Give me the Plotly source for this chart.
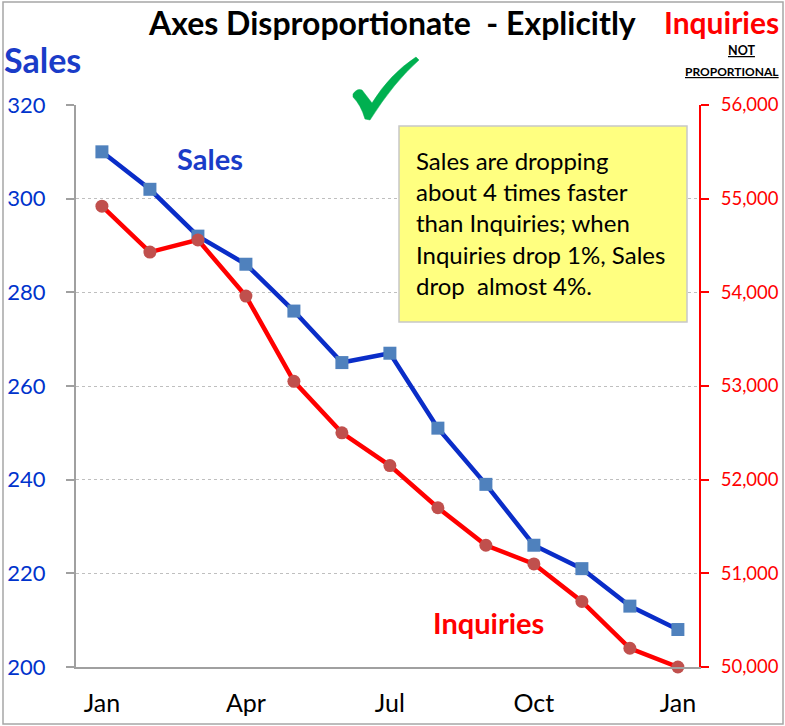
import plotly.graph_objects as go

# ---- data ----
months = ["Jan", "Feb", "Mar", "Apr", "May", "Jun", "Jul", "Aug", "Sep", "Oct", "Nov", "Dec", "Jan"]
month_idx = list(range(len(months)))
sales = [310, 302, 292, 286, 276, 265, 267, 251, 239, 226, 221, 213, 208]
inquiries = [54920, 54430, 54560, 53960, 53050, 52500, 52150, 51700, 51300, 51100, 50700, 50200, 50000]
xtick_vals = [0, 3, 6, 9, 12]
xtick_text = ["Jan", "Apr", "Jul", "Oct", "Jan"]
sales_ticks = [200, 220, 240, 260, 280, 300, 320]
inq_ticks = [50000, 51000, 52000, 53000, 54000, 55000, 56000]

W, H = 785, 726
L, R, T, B = 76, 86, 105, 59
PW, PH = W - L - R, H - T - B


def px(x):
    return (x - L) / PW


def py(y):
    return (H - B - y) / PH


FONT = "Lato"
BLUE_TXT = "#1A3CC8"
RED = "#FF0000"

fig = go.Figure()
fig.add_trace(go.Scatter(
    x=month_idx, y=sales, mode="lines+markers", name="Sales",
    line=dict(color="#0A2DC8", width=4.5),
    marker=dict(symbol="square", size=13, color="#4F81BD"),
    yaxis="y", cliponaxis=False,
))
fig.add_trace(go.Scatter(
    x=month_idx, y=inquiries, mode="lines+markers", name="Inquiries",
    line=dict(color=RED, width=4.5),
    marker=dict(symbol="circle", size=13, color="#C0504D"),
    yaxis="y2", cliponaxis=False,
))

# checkmark path (pixel coords -> paper)
pts = [("M", [(353, 94)]), ("Q", [(357, 88), (362, 90)]), ("L", [(372, 103)]),
       ("Q", [(390, 74), (416, 57)]), ("L", [(419, 60)]), ("Q", [(394, 82), (370, 120)]),
       ("L", [(365, 119)]), ("Q", [(361, 105), (353, 97)])]
path = ""
for cmd, cs in pts:
    path += cmd + " " + " ".join(f"{px(a):.5f},{py(b):.5f}" for a, b in cs) + " "
path += "Z"

shapes = [
    # outer frame
    dict(type="rect", xref="paper", yref="paper", x0=px(3), x1=px(783), y0=py(724), y1=py(2),
         line=dict(color="#A6A6A6", width=1.5), fillcolor="rgba(0,0,0,0)", layer="below"),
    # yellow note box
    dict(type="rect", xref="paper", yref="paper", x0=px(399), x1=px(687), y0=py(322), y1=py(126),
         line=dict(color="#C8C8C8", width=1.5), fillcolor="#FFFF80", layer="above"),
    dict(type="path", xref="paper", yref="paper", path=path,
         fillcolor="#00B050", line=dict(color="#00B050", width=0.5), layer="above"),
]

annotations = [
    dict(text="<b>Axes Disproportionate  - Explicitly</b>", x=px(392), y=py(23), xref="paper", yref="paper",
         showarrow=False, font=dict(family=FONT, size=32, color="black"), xanchor="center", yanchor="middle"),
    dict(text="<b>Sales</b>", x=px(42), y=py(60), xref="paper", yref="paper",
         showarrow=False, font=dict(family=FONT, size=34, color=BLUE_TXT), xanchor="center", yanchor="middle"),
    dict(text="<b>Inquiries</b>", x=px(721), y=py(22), xref="paper", yref="paper",
         showarrow=False, font=dict(family=FONT, size=30, color=RED), xanchor="center", yanchor="middle"),
    dict(text="<b><u>NOT</u></b>", x=px(741), y=py(51), xref="paper", yref="paper",
         showarrow=False, font=dict(family=FONT, size=12.5, color="black"), xanchor="center", yanchor="middle"),
    dict(text="<b><u>PROPORTIONAL</u></b>", x=px(732), y=py(72), xref="paper", yref="paper",
         showarrow=False, font=dict(family=FONT, size=12, color="black"), xanchor="center", yanchor="middle"),
    dict(text="Sales are dropping<br>about 4 times faster<br>than Inquiries; when<br>Inquiries drop 1%, Sales<br>drop  almost 4%.",
         x=px(414), y=py(223), xref="paper", yref="paper", showarrow=False, align="left",
         font=dict(family=FONT, size=24, color="black"), xanchor="left", yanchor="middle"),
    dict(text="<b>Sales</b>", x=px(210), y=py(158), xref="paper", yref="paper",
         showarrow=False, font=dict(family=FONT, size=29, color=BLUE_TXT), xanchor="center", yanchor="middle"),
    dict(text="<b>Inquiries</b>", x=px(488), y=py(622), xref="paper", yref="paper",
         showarrow=False, font=dict(family=FONT, size=29, color=RED), xanchor="center", yanchor="middle"),
]

fig.update_layout(
    width=W, height=H, autosize=False,
    margin=dict(l=L, r=R, t=T, b=B, pad=0, autoexpand=False),
    paper_bgcolor="white", plot_bgcolor="white",
    showlegend=False,
    font=dict(family=FONT),
    xaxis=dict(range=[-0.54, 12.44], tickvals=xtick_vals, ticktext=xtick_text, automargin=False,
               showgrid=False, zeroline=False, showline=True, linecolor="#A0A0A0", linewidth=2,
               ticks="", ticklabelstandoff=13, tickfont=dict(family=FONT, size=25, color="black")),
    yaxis=dict(range=[200, 320], tickvals=sales_ticks, showgrid=True, gridcolor="#BFBFBF", griddash="dot",
               automargin=False,
               gridwidth=1, zeroline=False, showline=True, linecolor="#A0A0A0", linewidth=2,
               ticks="outside", ticklen=8, tickcolor="#A0A0A0", tickwidth=2, ticklabelstandoff=16,
               tickfont=dict(family=FONT, size=22, color="#0033CC")),
    yaxis2=dict(range=[50000, 56000], tickvals=inq_ticks, tickformat=",", overlaying="y", side="right",
                automargin=False,
                showgrid=False, zeroline=False, showline=True, linecolor=RED, linewidth=2,
                ticks="outside", ticklen=8, tickcolor=RED, tickwidth=2, ticklabelstandoff=8,
                tickfont=dict(family=FONT, size=18.5, color=RED)),
    shapes=shapes,
    annotations=annotations,
)

css_js = (
    "document.documentElement.style.margin='0';document.documentElement.style.overflow='hidden';"
    "document.body.style.margin='0';document.body.style.padding='0';document.body.style.overflow='hidden';"
)
fig.write_html("out.html", config={"displayModeBar": False, "responsive": False}, post_script=css_js)
